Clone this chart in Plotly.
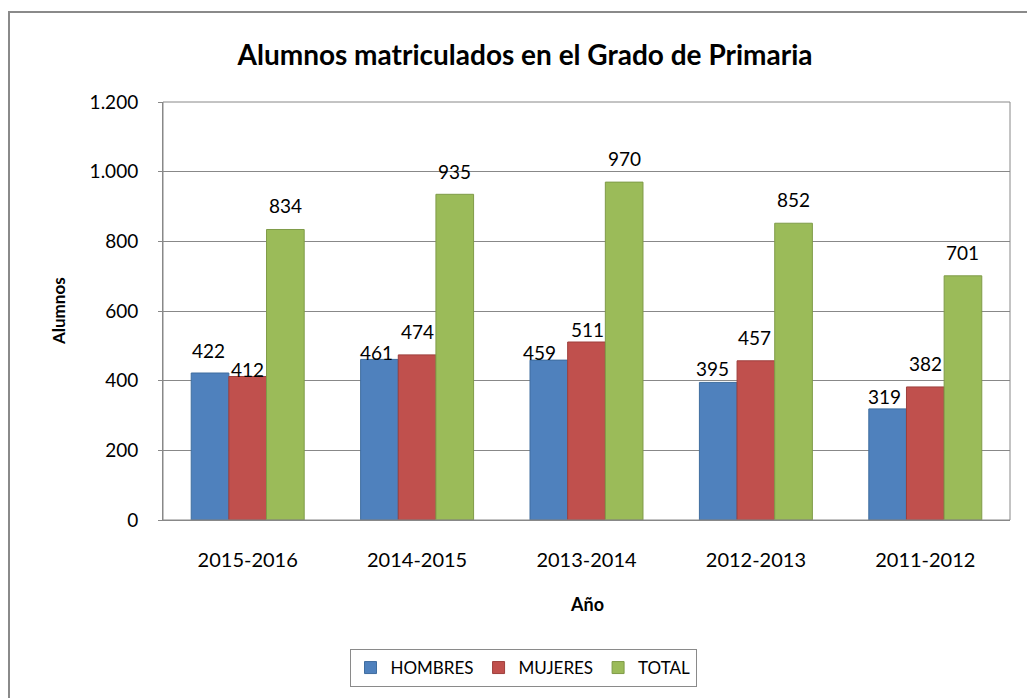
import plotly.graph_objects as go

# Enrolment data per academic year
years = ["2015-2016", "2014-2015", "2013-2014", "2012-2013", "2011-2012"]
hombres = [422, 461, 459, 395, 319]
mujeres = [412, 474, 511, 457, 382]
total = [834, 935, 970, 852, 701]

series_names = ["HOMBRES", "MUJERES", "TOTAL"]
y_ticks = [0, 200, 400, 600, 800, 1000, 1200]
y_tick_text = ["0", "200", "400", "600", "800", "1.000", "1.200"]

# Styling
fills = ["#4F81BD", "#C0504D", "#9BBB59"]
edges = ["#3F6D9F", "#9E3F3C", "#7F9B48"]
FONT = "Lato"
GRID = "#888888"
BARGAP = 0.333

# Label placement: vertical lift (px above bar top, to label centre) and small x nudges
label_lift = [
    [23, 7, 7.5, 14, 12],
    [7, 23, 13, 23, 23],
    [24, 23, 24, 24, 23],
]
label_nudge = [
    [-2, -3, -9, -6, -3],
    [0, 0, 1, -1, 0],
    [0, 0, 0, 0, 0],
]

W, H = 1027, 698
L, R, T, B = 163, 17, 102, 178
plot_w = W - L - R
plot_h = H - T - B


def px_to_paper(px, py):
    return (px - L) / plot_w, (H - B - py) / plot_h


fig = go.Figure()
all_values = [hombres, mujeres, total]
for name, vals, fc, ec in zip(series_names, all_values, fills, edges):
    fig.add_trace(go.Bar(
        name=name, x=years, y=vals,
        marker=dict(color=fc, line=dict(color=ec, width=1)),
        hoverinfo="x+y",
    ))

# Data labels above each bar
bar_w = (1 - BARGAP) / 3
annotations = []
for j, vals in enumerate(all_values):
    for i, v in enumerate(vals):
        annotations.append(dict(
            x=i + (j - 1) * bar_w, y=v, xref="x", yref="y",
            text=str(v), showarrow=False,
            xanchor="center", yanchor="middle",
            xshift=label_nudge[j][i], yshift=label_lift[j][i],
            font=dict(family=FONT, size=19, color="#000000"),
        ))

# Axis titles
ax_x, ax_y = px_to_paper(58, 311)
annotations.append(dict(
    x=ax_x, y=ax_y, xref="paper", yref="paper", text="<b>Alumnos</b>",
    showarrow=False, textangle=-90, xanchor="center", yanchor="middle",
    font=dict(family=FONT, size=17, color="#000000"),
))
ax_x, ax_y = px_to_paper(587, 604)
annotations.append(dict(
    x=ax_x, y=ax_y, xref="paper", yref="paper", text="<b>Año</b>",
    showarrow=False, xanchor="center", yanchor="middle",
    font=dict(family=FONT, size=18, color="#000000"),
))

# Outer chart frame (runs past the right and bottom edges)
fx0, fy0 = px_to_paper(9, 12)
fx1, fy1 = px_to_paper(W + 20, H + 20)
shapes = [
    dict(type="rect", xref="paper", yref="paper", x0=fx0, y0=fy1, x1=fx1, y1=fy0,
         line=dict(color="#8A8A8A", width=2), fillcolor="rgba(0,0,0,0)", layer="below"),
    dict(type="rect", xref="paper", yref="paper", x0=0, y0=0, x1=1, y1=1,
         line=dict(color=GRID, width=1), fillcolor="rgba(0,0,0,0)", layer="above"),
]

lx, ly = px_to_paper(523, 668)

fig.update_layout(
    width=W, height=H,
    margin=dict(l=L, r=R, t=T, b=B, autoexpand=False),
    paper_bgcolor="white", plot_bgcolor="white",
    barmode="group", bargap=BARGAP, bargroupgap=0,
    font=dict(family=FONT, color="#000000"),
    title=dict(
        text="<b>Alumnos matriculados en el Grado de Primaria</b>",
        x=525 / W, xanchor="center", xref="container",
        y=1 - 55 / H, yanchor="middle", yref="container",
        font=dict(family=FONT, size=28, color="#000000"),
    ),
    xaxis=dict(
        type="category", categoryorder="array", categoryarray=years,
        showgrid=False, zeroline=False, showline=True, linecolor=GRID, linewidth=1,
        ticks="", ticklabelstandoff=22,
        tickfont=dict(family=FONT, size=20, color="#000000"),
    ),
    yaxis=dict(
        range=[0, 1200], tickvals=y_ticks, ticktext=y_tick_text,
        showgrid=True, gridcolor=GRID, gridwidth=1, zeroline=False,
        showline=True, linecolor=GRID, linewidth=1,
        ticks="outside", ticklen=4, tickcolor=GRID,
        ticklabelstandoff=16,
        tickfont=dict(family=FONT, size=19, color="#000000"),
    ),
    legend=dict(
        orientation="h", x=lx, y=ly, xanchor="center", yanchor="middle",
        bordercolor="#8A8A8A", borderwidth=1, bgcolor="white",
        font=dict(family=FONT, size=17, color="#000000"),
        itemwidth=30, tracegroupgap=0,
    ),
    annotations=annotations,
    shapes=shapes,
    showlegend=True,
)

fig.write_html("out.html")
